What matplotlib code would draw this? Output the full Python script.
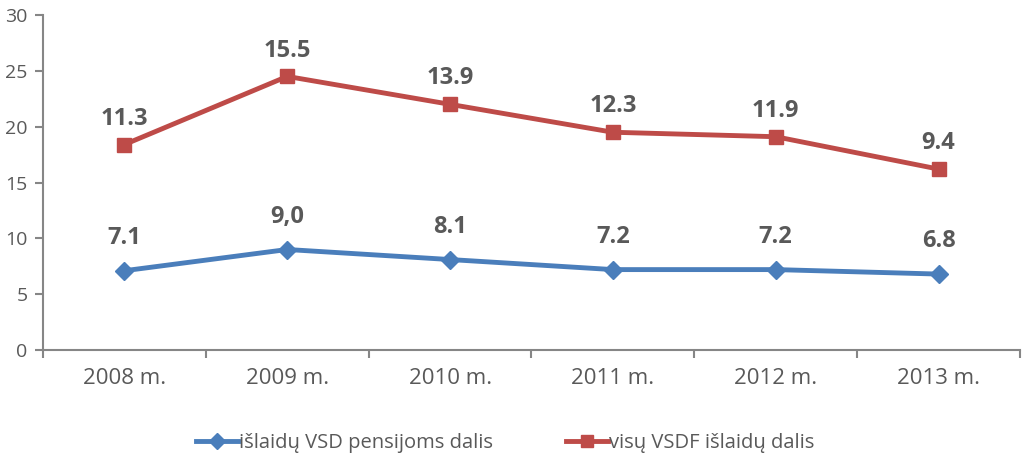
import matplotlib
matplotlib.use("Agg")
import matplotlib.pyplot as plt
import numpy as np

plt.rcParams['font.family'] = ['Open Sans', 'DejaVu Sans']

years = ["2008 m.", "2009 m.", "2010 m.", "2011 m.", "2012 m.", "2013 m."]
pension = [7.1, 9.0, 8.1, 7.2, 7.2, 6.8]
pension_labels = ["7.1", "9,0", "8.1", "7.2", "7.2", "6.8"]
vsdf = [11.3, 15.5, 13.9, 12.3, 11.9, 9.4]
vsdf_labels = ["11.3", "15.5", "13.9", "12.3", "11.9", "9.4"]

blue = "#4a7ebb"
red = "#be4b48"
gray = "#595959"
axis_gray = "#868686"

fig = plt.figure(figsize=(10.29, 4.57), dpi=100)
ax = fig.add_axes([43/1029, 107/457, (1020-43)/1029, (350-15)/457])

x = np.arange(len(years))
stacked = np.array(pension) + np.array(vsdf)

ax.plot(x, pension, color=blue, lw=3.5, marker='D', ms=9, label="išlaidų VSD pensijoms dalis", zorder=3)
ax.plot(x, stacked, color=red, lw=3.5, marker='s', ms=10, label="visų VSDF išlaidų dalis", zorder=3)

for xi, yi, t in zip(x, pension, pension_labels):
    ax.annotate(t, (xi, yi), xytext=(0, 15), textcoords='offset points', ha='center', va='bottom',
                fontsize=17, fontweight='bold', color=gray)
for xi, yi, t in zip(x, stacked, vsdf_labels):
    ax.annotate(t, (xi, yi), xytext=(0, 10), textcoords='offset points', ha='center', va='bottom',
                fontsize=17, fontweight='bold', color=gray)

ax.set_xlim(-0.5, len(years) - 0.5)
ax.set_ylim(0, 30)
ax.set_yticks(range(0, 31, 5))
ax.set_xticks(x)
ax.set_xticklabels(years)
ax.set_xticks(np.arange(-0.5, len(years), 1), minor=True)
ax.tick_params(axis='x', which='major', length=0, pad=13, labelsize=16, labelcolor=gray)
ax.tick_params(axis='x', which='minor', length=6, width=1.5, color=axis_gray, direction='out')
ax.tick_params(axis='y', length=6, width=1.5, color=axis_gray, labelsize=14, labelcolor=gray, pad=5)

for s in ['top', 'right']:
    ax.spines[s].set_visible(False)
for s in ['left', 'bottom']:
    ax.spines[s].set_color(axis_gray)
    ax.spines[s].set_linewidth(1.5)

leg = fig.legend(loc='center', bbox_to_anchor=(0.491, 14/457), ncol=2, frameon=False,
                 fontsize=14.5, handlelength=2.1, handletextpad=0.05, columnspacing=3.6,
                 labelcolor=gray, markerscale=0.9)

fig.savefig("out.png", dpi=100)
